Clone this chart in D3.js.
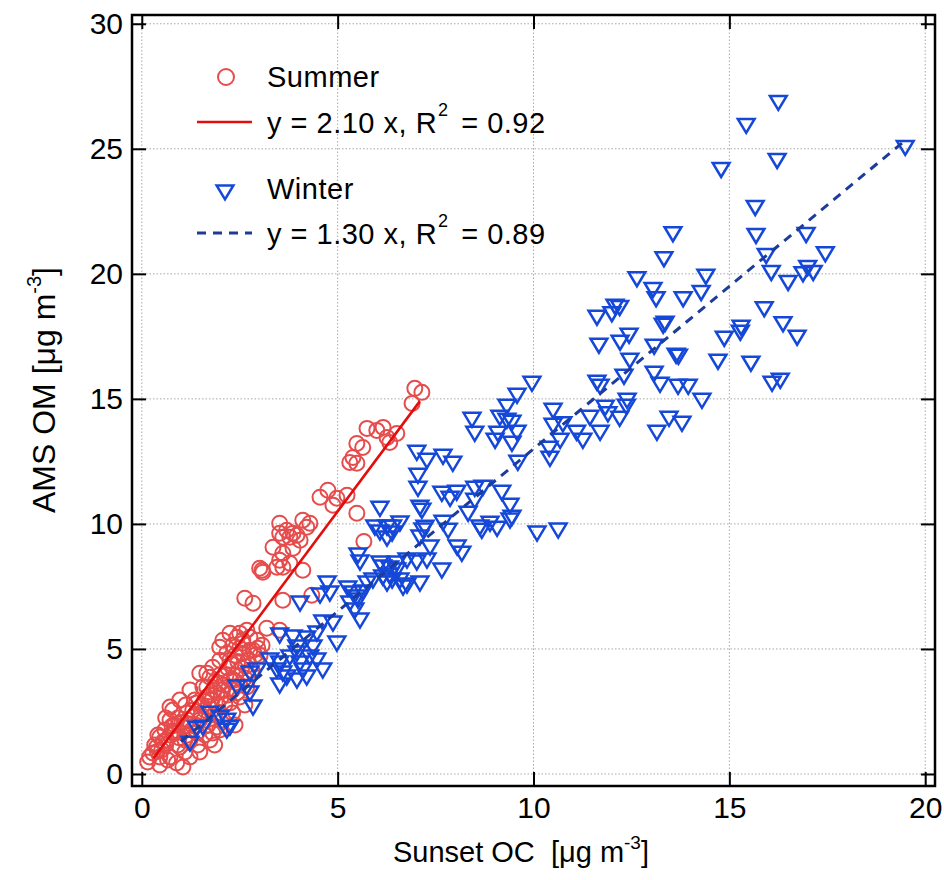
<!DOCTYPE html>
<html>
<head>
<meta charset="utf-8">
<script src="https://cdn.jsdelivr.net/npm/d3@7"></script>
<style>
  body { margin: 0; background: #fff; }
  svg { display: block; font-family: "Liberation Sans", Arial, sans-serif; }
  text { white-space: pre; }
</style>
</head>
<body>
<svg id="chart" width="944" height="880"></svg>
<script>
// ticks
const xTicks = [0, 5, 10, 15, 20];
const yTicks = [0, 5, 10, 15, 20, 25, 30];

// fits (slope, r2, x range)
const summerFit = { slope: 2.10, r2: '0.92', x0: 0.3, x1: 7.1 };
const winterFit = { slope: 1.30, r2: '0.89', x0: 1.0, x1: 19.5 };

// summer: [Sunset OC, AMS OM]
const summerData = [
  [6.97,15.42],[7.15,15.26],[6.90,14.82],[5.75,13.82],[6.00,13.74],[6.16,13.86],[6.26,13.46],[6.51,13.62],
  [6.33,13.26],[5.49,13.22],[5.64,13.06],[5.39,12.66],[5.49,12.43],[5.31,12.46],[4.55,11.07],[4.75,11.35],
  [4.98,11.03],[4.88,10.75],[5.24,11.15],[5.49,10.43],[3.52,10.03],[3.70,9.75],[3.86,9.63],[4.11,10.15],
  [4.21,9.87],[4.29,10.03],[3.52,9.63],[3.78,9.47],[3.96,9.55],[5.67,9.30],[3.60,9.47],[4.04,9.35],
  [3.35,9.07],[3.60,8.83],[3.86,9.03],[3.52,8.55],[3.60,8.27],[3.78,8.43],[3.01,8.23],[3.09,8.07],
  [4.11,8.15],[2.63,7.03],[2.84,6.83],[3.60,6.95],[4.34,7.15],[3.19,5.83],[2.25,5.63],[2.43,5.47],
  [2.58,5.35],[2.76,5.47],[2.94,5.35],[2.32,5.15],[2.50,5.03],[2.17,4.83],[1.99,5.07],[2.76,4.95],
  [1.99,4.55],[2.25,4.55],[1.66,4.03],[1.81,4.27],[2.68,5.75],[2.07,5.35],[2.58,5.23],[3.52,5.75],
  [1.48,4.03],[1.74,3.87],[1.66,3.47],[1.99,3.63],[0.97,2.96],[0.79,2.56],[0.72,2.16],[1.15,2.44],
  [1.40,2.84],[1.66,3.08],[1.92,3.24],[0.46,1.48],[0.38,1.08],[0.28,0.84],[0.20,0.68],[0.64,1.36],
  [0.79,1.64],[1.05,1.88],[1.05,0.28],[1.99,1.76],[2.07,2.16],[2.25,2.84],[2.50,3.08],[2.32,2.44],
  [1.74,1.36],[1.23,0.68],[2.94,4.43],[2.68,3.48],[2.43,3.24],[1.92,1.88],[1.81,1.64],[1.40,1.64],
  [1.23,1.36],[0.97,1.08],[0.72,0.68],[0.46,0.68],[0.89,0.44],[1.56,3.48],[0.72,2.68],[2.84,4.95],
  [2.58,4.83],[2.50,5.63],[3.07,8.15],[3.45,8.27],
  [0.33,1.16],[0.51,0.96],[0.59,1.76],[0.72,1.56],[0.84,1.96],[0.92,1.16],[1.10,1.36],[1.17,2.16],
  [1.28,1.76],[1.35,2.36],[1.48,2.16],[1.43,1.16],[1.61,2.56],[1.69,1.96],[1.79,2.96],[1.86,2.36],
  [1.94,2.76],[2.04,3.36],[2.12,2.76],[2.20,3.16],[2.25,3.76],[2.32,3.36],[2.40,3.96],[2.50,3.56],
  [2.55,4.23],[2.63,3.84],[2.71,4.55],[2.81,4.15],[2.89,4.75],[2.96,5.03],[2.38,4.75],[2.20,4.23],
  [1.99,3.96],[1.84,3.36],[1.61,2.96],[1.35,2.96],[1.12,2.76],[0.92,2.24],[0.77,1.92],[0.61,1.16],
  [0.46,0.36],[0.66,0.56],[1.10,0.88],[1.48,0.88],[1.61,1.56],[1.86,1.16],[2.38,1.96],[2.63,2.76],
  [0.15,0.48],[0.41,1.56],[1.23,3.36],[0.61,2.24],[3.02,4.75],[3.07,5.15],
  [1.02,2.05],[1.30,2.55],[1.55,2.75],[1.75,3.15],[2.02,3.05],[1.88,3.70],[2.15,3.95],[2.28,4.40],
  [0.55,1.30],[0.85,1.70],[1.25,2.00],[0.40,0.90],[2.45,4.50],[2.65,4.30],
  [1.15,1.55],[1.38,1.95],[1.52,2.35],[1.70,2.70],[1.95,2.45],[2.10,3.55],[2.35,3.75],[0.95,1.45]
];

// winter: [Sunset OC, AMS OM]
const winterData = [
  [16.25,26.85],[15.43,25.93],[19.49,25.05],[16.22,24.53],[14.79,24.17],[15.66,22.65],[13.56,21.60],[15.68,21.53],
  [16.96,21.57],[13.33,20.60],[15.94,20.73],[17.45,20.80],[12.64,19.80],[14.40,19.90],[16.07,20.05],[17.00,20.25],
  [17.14,20.05],[16.88,20.00],[16.50,19.65],[13.05,19.37],[13.13,19.00],[13.82,19.00],[14.28,19.25],[12.08,18.70],
  [11.62,18.26],[12.00,18.40],[12.20,18.65],[15.89,18.60],[13.31,17.94],[13.36,18.02],[16.37,18.00],[16.73,17.46],
  [15.30,17.86],[15.28,17.66],[11.67,17.14],[12.21,17.26],[12.44,17.54],[13.08,17.10],[14.87,17.42],[13.64,16.74],
  [13.70,16.70],[14.71,16.50],[15.55,16.42],[12.46,16.54],[12.31,15.90],[11.62,15.66],[11.70,15.50],[13.08,16.02],
  [13.23,15.58],[13.69,15.50],[13.95,15.50],[14.30,14.94],[16.09,15.62],[16.30,15.74],[13.15,13.66],[13.46,14.22],
  [13.79,14.02],[12.39,14.94],[12.37,14.70],[11.83,14.66],[11.90,14.40],[11.70,13.66],[11.26,13.34],[11.10,13.66],
  [11.44,14.26],[12.20,14.22],[10.68,13.34],[10.75,14.00],
  [9.96,15.62],[9.58,15.14],[9.32,14.70],[8.43,14.18],[8.50,13.62],[9.14,14.26],[9.32,14.14],[9.45,14.06],
  [9.58,13.66],[9.09,13.62],[9.02,13.34],[9.45,13.22],[9.60,12.46],[10.50,14.54],[10.50,13.94],[10.40,13.02],
  [10.42,12.62],[7.02,12.86],[7.28,12.54],[7.69,12.70],[7.94,12.42],[7.05,11.94],[7.05,11.42],[7.66,11.22],
  [7.87,11.02],[8.04,11.26],[8.50,11.42],[8.71,11.46],[9.19,11.26],[9.40,10.74],[9.45,10.26],[8.50,10.94],
  [8.33,10.42],[7.15,10.54],[7.23,9.86],[7.69,10.06],[7.82,9.74],[8.68,9.74],[9.07,9.82],[8.89,10.02],
  [7.10,9.47],[7.36,9.07],[8.05,9.07],[8.17,8.82],[10.09,9.63],[10.63,9.75],[6.59,10.03],
  [6.08,10.62],[7.10,10.66],[6.26,9.87],[6.39,9.63],[6.08,9.67],[5.95,9.87],[6.26,9.43],[6.40,9.87],
  [7.18,9.75],[8.63,9.87],[9.40,10.15],[5.52,8.75],[5.57,8.47],[6.08,8.43],[6.33,8.23],[6.51,8.43],
  [6.15,7.87],[6.39,7.75],[6.59,7.75],[6.77,7.55],[7.10,7.63],[6.77,8.55],[7.02,8.47],[7.28,8.55],
  [7.66,8.15],[4.73,7.63],[4.80,7.23],[5.26,7.43],[5.39,7.23],[5.52,6.95],[5.75,7.63],[5.90,7.75],
  [4.04,6.83],[5.31,6.83],[5.44,6.55],[5.57,6.15],[4.62,6.07],[4.88,6.03],
  [4.55,7.15],[5.49,7.07],[5.64,7.27],[6.33,7.95],[6.51,8.15],[6.26,7.63],[6.67,7.47],[6.15,8.27],
  [3.52,5.55],[3.86,5.47],[3.96,5.07],[4.21,5.43],[4.37,5.07],[4.47,5.63],[4.98,5.23],[3.27,4.55],
  [3.52,4.43],[3.45,4.15],[3.60,4.03],[3.78,4.67],[3.96,4.83],[4.04,4.43],[4.11,4.15],[4.29,4.67],
  [4.47,4.55],[4.62,4.15],[3.96,3.75],[3.70,3.87],[3.52,3.55],[4.21,3.87],[2.76,4.03],[2.94,4.15],
  [2.43,3.47],[2.68,3.47],[2.76,3.23],[2.84,2.67],[1.74,2.43],[2.00,2.27],[2.17,2.15],[2.25,1.87],
  [1.23,1.23],[1.40,1.83],[1.56,1.87],[2.17,1.75]
];

const summerColor = '#e64c4c';
const summerLine = '#e30d0d';
const winterColor = '#1548d8';
const winterLine = '#1c3c9c';

const svg = d3.select('#chart');
const pLeft = 132, pRight = 935, pTop = 15, pBottom = 786;

const x = d3.scaleLinear().domain([-0.25, 20.25]).range([pLeft, pRight]);
const y = d3.scaleLinear().domain([-0.48, 30.35]).range([pBottom, pTop]);

// grid
const grid = svg.append('g')
  .attr('stroke', '#a8a8a8')
  .attr('stroke-width', 1)
  .attr('stroke-dasharray', '1.5,2');
grid.selectAll('.gx').data(xTicks).join('line')
  .attr('x1', d => x(d)).attr('x2', d => x(d))
  .attr('y1', pTop).attr('y2', pBottom);
grid.selectAll('.gy').data(yTicks).join('line')
  .attr('x1', pLeft).attr('x2', pRight)
  .attr('y1', d => y(d)).attr('y2', d => y(d));

// summer circles
svg.append('g').selectAll('circle').data(summerData).join('circle')
  .attr('cx', d => x(d[0]))
  .attr('cy', d => y(d[1]))
  .attr('r', 7.5)
  .attr('fill', 'none')
  .attr('stroke', summerColor)
  .attr('stroke-width', 2);

// winter triangles (pointing down)
const tri = 'M-8.4,-6.6L8.4,-6.6L0,7.4Z';
svg.append('g').selectAll('path').data(winterData).join('path')
  .attr('transform', d => `translate(${x(d[0])},${y(d[1])})`)
  .attr('d', tri)
  .attr('fill', 'none')
  .attr('stroke', winterColor)
  .attr('stroke-width', 2.5)
  .attr('stroke-linejoin', 'miter');

// fit lines
svg.append('line')
  .attr('x1', x(summerFit.x0)).attr('y1', y(summerFit.slope * summerFit.x0))
  .attr('x2', x(summerFit.x1)).attr('y2', y(summerFit.slope * summerFit.x1))
  .attr('stroke', summerLine).attr('stroke-width', 2.6);
svg.append('line')
  .attr('x1', x(winterFit.x0)).attr('y1', y(winterFit.slope * winterFit.x0))
  .attr('x2', x(winterFit.x1)).attr('y2', y(winterFit.slope * winterFit.x1))
  .attr('stroke', winterLine).attr('stroke-width', 3)
  .attr('stroke-dasharray', '9,7');

// axes, ticks inward on all sides
const styleAxis = g => {
  g.select('.domain').remove();
  g.selectAll('.tick line').attr('stroke', '#000').attr('stroke-width', 2);
  g.selectAll('.tick text').attr('fill', '#000').style('font-size', '30px')
    .style('font-family', '"Liberation Sans", Arial, sans-serif');
};
svg.append('g').attr('transform', `translate(0,${pBottom})`)
  .call(d3.axisBottom(x).tickValues(xTicks).tickSizeInner(-14).tickSizeOuter(0).tickPadding(11))
  .call(styleAxis);
svg.append('g').attr('transform', `translate(${pLeft},0)`)
  .call(d3.axisLeft(y).tickValues(yTicks).tickSizeInner(-14).tickSizeOuter(0).tickPadding(9))
  .call(styleAxis);
svg.append('g').attr('transform', `translate(0,${pTop})`)
  .call(d3.axisTop(x).tickValues(xTicks).tickSizeInner(-14).tickSizeOuter(0).tickFormat(''))
  .call(styleAxis);
svg.append('g').attr('transform', `translate(${pRight},0)`)
  .call(d3.axisRight(y).tickValues(yTicks).tickSizeInner(-14).tickSizeOuter(0).tickFormat(''))
  .call(styleAxis);

// frame
svg.append('rect')
  .attr('x', pLeft).attr('y', pTop)
  .attr('width', pRight - pLeft).attr('height', pBottom - pTop)
  .attr('fill', 'none').attr('stroke', '#000').attr('stroke-width', 2.5);

// axis titles
const xt = svg.append('text')
  .attr('x', 521).attr('y', 862)
  .attr('text-anchor', 'middle')
  .style('font-size', '29px');
xt.append('tspan').text('Sunset OC  [μg m');
xt.append('tspan').attr('dy', -13).style('font-size', '19px').text('-3');
xt.append('tspan').attr('dy', 13).text(']');

const yt = svg.append('text')
  .attr('transform', 'translate(55,390) rotate(-90)')
  .attr('text-anchor', 'middle')
  .style('font-size', '32px');
yt.append('tspan').text('AMS OM [μg m');
yt.append('tspan').attr('dy', -14).style('font-size', '20px').text('-3');
yt.append('tspan').attr('dy', 14).text(']');

// legend
const lg = svg.append('g').style('font-size', '29px').style('letter-spacing', '0.5px');
lg.append('circle').attr('cx', 226).attr('cy', 77).attr('r', 8)
  .attr('fill', 'none').attr('stroke', summerColor).attr('stroke-width', 2);
lg.append('text').attr('x', 267).attr('y', 87).text('Summer');
lg.append('line').attr('x1', 197).attr('x2', 252).attr('y1', 122).attr('y2', 122)
  .attr('stroke', summerLine).attr('stroke-width', 2.6);
const t1 = lg.append('text').attr('x', 267).attr('y', 133);
t1.append('tspan').text(`y = ${summerFit.slope.toFixed(2)} x, R`);
t1.append('tspan').attr('dy', -17).attr('dx', 1).style('font-size', '18px').text('2');
t1.append('tspan').attr('dy', 17).attr('dx', 4).text(` = ${summerFit.r2}`);

lg.append('path').attr('transform', 'translate(225,192)').attr('d', tri)
  .attr('fill', 'none').attr('stroke', winterColor).attr('stroke-width', 2.5);
lg.append('text').attr('x', 267).attr('y', 199).text('Winter');
lg.append('line').attr('x1', 197).attr('x2', 252).attr('y1', 233).attr('y2', 233)
  .attr('stroke', winterLine).attr('stroke-width', 3).attr('stroke-dasharray', '9,7');
const t2 = lg.append('text').attr('x', 267).attr('y', 244);
t2.append('tspan').text(`y = ${winterFit.slope.toFixed(2)} x, R`);
t2.append('tspan').attr('dy', -17).attr('dx', 1).style('font-size', '18px').text('2');
t2.append('tspan').attr('dy', 17).attr('dx', 4).text(` = ${winterFit.r2}`);
</script>
</body>
</html>
